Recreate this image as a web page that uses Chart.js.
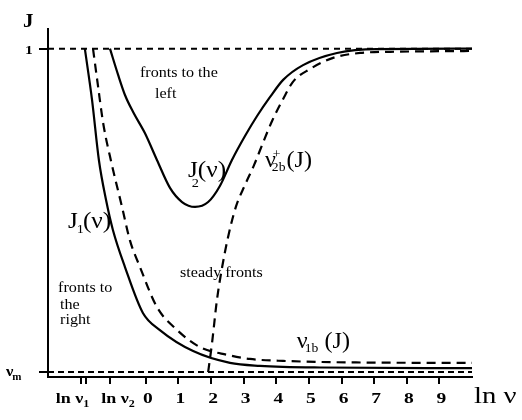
<!DOCTYPE html>
<html>
<head>
<meta charset="utf-8">
<script src="https://cdn.jsdelivr.net/npm/chart.js@4.4.1/dist/chart.umd.min.js"></script>
<style>
  html, body { margin: 0; padding: 0; background: #fff; }
  #wrap { width: 522px; height: 420px; }
</style>
</head>
<body>
<div id="wrap"><canvas id="c" width="522" height="420"></canvas></div>
<script>
// ---- data (ln ν on x, J on y) ----
const nuM = 0.015;            // J level of ν_m
const levelLnv = [-3, 10];    // extent of the two horizontal reference levels

// J1(ν), solid
const j1Lnv = [-1.87, -1.65, -1.44, -1.22, -1.01, -0.64, -0.09, 0.43, 1.45, 2.58, 3.50, 5.34, 10];
const j1J   = [1.0, 0.844, 0.661, 0.539, 0.448, 0.335, 0.195, 0.143, 0.079, 0.043, 0.034, 0.029, 0.027];

// ν1b(J), dashed
const v1bLnv = [-1.62, -1.47, -1.31, -1.04, -0.73, -0.49, -0.18, 0.34, 0.96, 1.66, 2.52, 3.19, 4.21, 6.78, 10];
const v1bJ   = [1.0, 0.889, 0.774, 0.646, 0.518, 0.417, 0.335, 0.213, 0.143, 0.091, 0.067, 0.055, 0.049, 0.044, 0.043];

// J2(ν), solid
const j2Lnv = [-1.10, -0.85, -0.64, -0.39, -0.03, 0.34, 0.74, 1.11, 1.51, 1.91, 2.27, 2.64, 3.04, 3.41, 3.81, 4.21, 4.82, 5.86, 7.09, 10];
const j2J   = [1.0, 0.920, 0.859, 0.807, 0.743, 0.661, 0.576, 0.533, 0.518, 0.533, 0.582, 0.661, 0.734, 0.795, 0.853, 0.905, 0.950, 0.987, 0.999, 1.0];

// ν2b+(J), dashed
const v2bLnv = [1.91, 2.03, 2.18, 2.34, 2.52, 2.76, 3.04, 3.32, 3.59, 3.87, 4.21, 4.51, 5.03, 5.74, 6.57, 7.79, 10];
const v2bJ   = [0.015, 0.104, 0.235, 0.335, 0.426, 0.518, 0.585, 0.646, 0.713, 0.780, 0.847, 0.899, 0.938, 0.972, 0.987, 0.991, 0.993];

// axis ticks
const xTickMarks = [-1.99, -1.83, -1.1, 0, 1, 2, 3, 4, 5, 6, 7, 8, 9];
const xNumTicks  = [0, 1, 2, 3, 4, 5, 6, 7, 8, 9];
const xNumLabels = ['0', '1', '2', '3', '4', '5', '6', '7', '8', '9'];
const lnTicks    = [-1.91, -1.1];
const lnSubs     = ['1', '2'];
const yTickMarks = [nuM, 1];

const pts = (xs, ys) => xs.map((x, i) => ({ x, y: ys[i] }));

const SERIF = '"Liberation Serif", "DejaVu Serif", serif';

// draws a run of text pieces (sub/superscripts) with a horizontal stretch
function rich(ctx, x, y, parts, sx) {
  let cx = x;
  for (const p of parts) {
    ctx.save();
    ctx.font = p.font;
    ctx.textAlign = 'left';
    ctx.textBaseline = 'alphabetic';
    const px = cx + (p.dx || 0);
    const w = ctx.measureText(p.t).width * sx;
    ctx.translate(px, y + (p.dy || 0));
    ctx.scale(sx, 1);
    ctx.fillText(p.t, 0, 0);
    ctx.restore();
    cx = p.keep ? cx : px + w;
  }
  return cx - x;
}
function measureRich(ctx, parts, sx) {
  let w = 0;
  for (const p of parts) {
    ctx.font = p.font;
    w += (p.dx || 0) + (p.keep ? 0 : ctx.measureText(p.t).width * sx);
  }
  return w;
}

const textPlugin = {
  id: 'figureText',
  afterDraw(chart) {
    const ctx = chart.ctx;
    const xs = chart.scales.x, ys = chart.scales.y;
    const X = v => xs.getPixelForValue(v), Y = v => ys.getPixelForValue(v);
    ctx.save();
    ctx.fillStyle = '#000';

    const bold15 = 'bold 15px ' + SERIF;
    const bold10 = 'bold 10px ' + SERIF;
    const labelBase = 403;

    // numeric x tick labels
    xNumTicks.forEach((v, i) => {
      const parts = [{ t: xNumLabels[i], font: bold15 }];
      const w = measureRich(ctx, parts, 1.3);
      rich(ctx, X(v) + 2 - w / 2, labelBase, parts, 1.3);
    });
    // ln ν1, ln ν2 labels
    const lnShift = [-11, 8];
    lnTicks.forEach((v, i) => {
      const parts = [{ t: 'ln ν', font: bold15 }, { t: lnSubs[i], font: bold10, dy: 4 }];
      const w = measureRich(ctx, parts, 1.2);
      rich(ctx, X(v) + lnShift[i] - w / 2, labelBase, parts, 1.2);
    });
    // x-axis title
    rich(ctx, xs.right + 2, labelBase, [{ t: 'ln ν', font: '23px ' + SERIF }], 1.25);

    // y axis: title, "1", ν_m
    rich(ctx, 23, 27, [{ t: 'J', font: 'bold 19px ' + SERIF }], 1.1);
    rich(ctx, 25, Y(1) + 5, [{ t: '1', font: 'bold 13px ' + SERIF }], 1.2);
    rich(ctx, 6, Y(nuM) + 4, [
      { t: 'ν', font: 'bold 15px ' + SERIF },
      { t: 'm', font: 'bold 10px ' + SERIF, dy: 4, dx: -1 }
    ], 1.1);

    // region labels
    const reg = '14px ' + SERIF;
    rich(ctx, X(-0.18), Y(0.914), [{ t: 'fronts to the', font: reg }], 1.15);
    rich(ctx, X(0.28), Y(0.850), [{ t: 'left', font: reg }], 1.15);
    rich(ctx, X(-2.69), Y(0.259), [{ t: 'fronts to', font: reg }], 1.15);
    rich(ctx, X(-2.63), Y(0.207), [{ t: 'the', font: reg }], 1.15);
    rich(ctx, X(-2.63), Y(0.161), [{ t: 'right', font: reg }], 1.15);
    rich(ctx, X(1.05), Y(0.305), [{ t: 'steady fronts', font: reg }], 1.15);

    // curve labels
    const big = '23px ' + SERIF;
    const sub = '13px ' + SERIF;
    rich(ctx, X(-2.39), Y(0.454), [
      { t: 'J', font: big },
      { t: '1', font: sub, dy: 5, dx: -1 },
      { t: '(ν)', font: big, dx: -1 }
    ], 1.1);
    rich(ctx, X(1.29), Y(0.609), [
      { t: 'J', font: big },
      { t: '2', font: sub, dy: 10, dx: -6, keep: true },
      { t: '(ν)', font: big }
    ], 1.1);
    rich(ctx, X(3.65), Y(0.640), [
      { t: 'ν', font: big },
      { t: '+', font: sub, dy: -9, dx: -3, keep: true },
      { t: '2b', font: sub, dy: 4, dx: -4 },
      { t: '(J)', font: big, dx: 1 }
    ], 1.05);
    rich(ctx, X(4.63), Y(0.088), [
      { t: 'ν', font: big },
      { t: '1b', font: sub, dy: 4, dx: -3 },
      { t: ' (J)', font: big }
    ], 1.05);

    ctx.restore();
  }
};

const solid = { borderColor: '#000', borderWidth: 2.2, pointRadius: 0, fill: false, cubicInterpolationMode: 'monotone' };
const dashed = Object.assign({}, solid, { borderDash: [9, 6] });

new Chart(document.getElementById('c'), {
  type: 'line',
  data: {
    datasets: [
      Object.assign({ label: 'J = 1', data: pts(levelLnv, [1, 1]) }, solid, { borderWidth: 2, borderDash: [6, 5] }),
      Object.assign({ label: 'ν_m', data: pts(levelLnv, [nuM, nuM]) }, solid, { borderWidth: 2, borderDash: [6, 4] }),
      Object.assign({ label: 'J1(ν)', data: pts(j1Lnv, j1J) }, solid),
      Object.assign({ label: 'ν1b(J)', data: pts(v1bLnv, v1bJ) }, dashed),
      Object.assign({ label: 'J2(ν)', data: pts(j2Lnv, j2J) }, solid),
      Object.assign({ label: 'ν2b+(J)', data: pts(v2bLnv, v2bJ) }, dashed)
    ]
  },
  options: {
    responsive: false,
    animation: false,
    events: [],
    layout: { padding: { left: 0, right: 50, top: 29, bottom: 0 } },
    plugins: { legend: { display: false }, tooltip: { enabled: false } },
    scales: {
      x: {
        type: 'linear', min: -3, max: 10,
        afterBuildTicks: s => { s.ticks = xTickMarks.map(v => ({ value: v })); },
        afterFit: s => { s.height = 43; },
        ticks: { display: false },
        grid: { display: true, drawOnChartArea: false, drawTicks: true, tickLength: 7, color: '#000', lineWidth: 2 },
        border: { display: true, color: '#000', width: 2 }
      },
      y: {
        type: 'linear', min: 0, max: 1.06,
        afterBuildTicks: s => { s.ticks = yTickMarks.map(v => ({ value: v })); },
        afterFit: s => { s.width = 48; },
        ticks: { display: false },
        grid: { display: true, drawOnChartArea: false, drawTicks: true, tickLength: 9, color: '#000', lineWidth: 2 },
        border: { display: true, color: '#000', width: 2 }
      }
    }
  },
  plugins: [textPlugin]
});
</script>
</body>
</html>
